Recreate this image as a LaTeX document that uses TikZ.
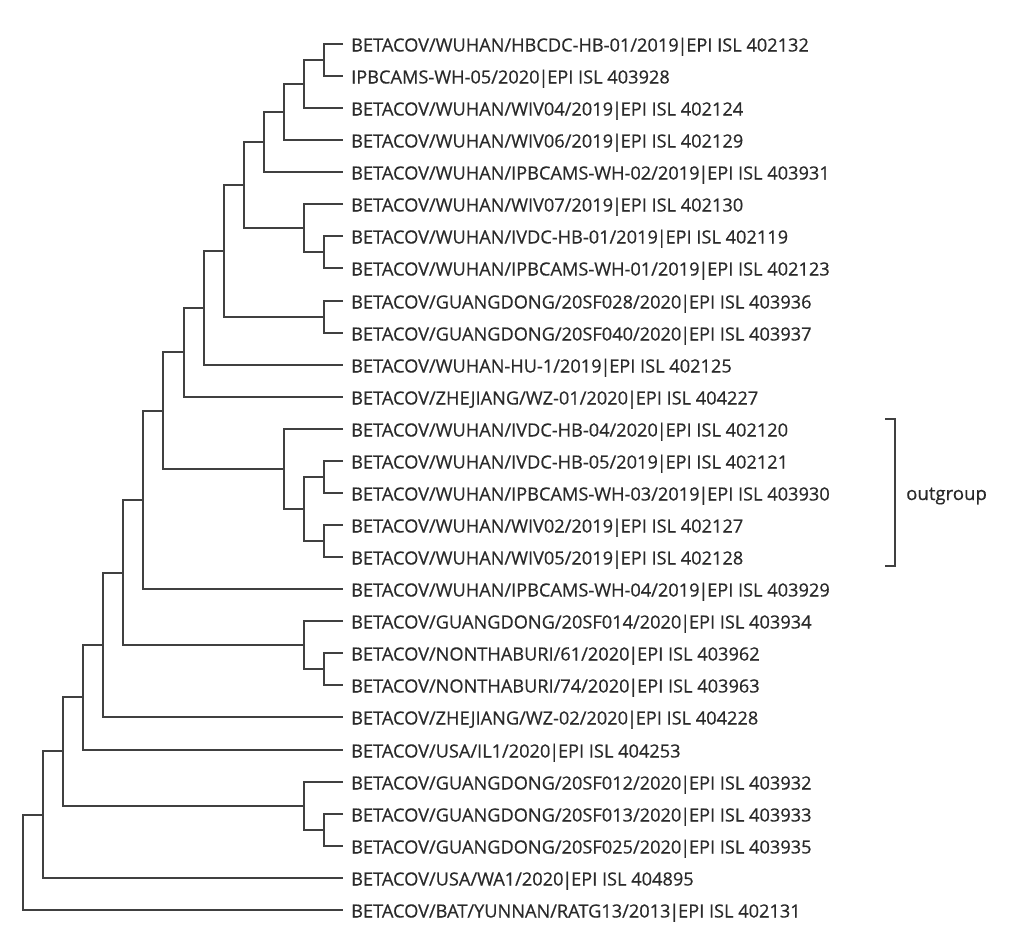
\documentclass[tikz,border=0pt]{standalone}
\usepackage{fontspec}
\newfontfamily\labfont{Open Sans}[FakeBold=0.5]
\newcommand\vbar{\kern-1.2pt|\kern-1.2pt}
\begin{document}
\begin{tikzpicture}[x=1pt,y=-1pt,
  branch/.style={draw=linec,line width=1.8pt,line join=miter},
  leaf/.style={anchor=base west,inner sep=0pt,text=textc,font=\labfont\fontsize{18.2}{21}\selectfont},
  tag/.style={anchor=base west,inner sep=0pt,text=textc,font=\labfont\fontsize{18.6}{21}\selectfont}]
\definecolor{linec}{HTML}{404040}
\definecolor{textc}{HTML}{2A2A2A}
\useasboundingbox[fill=white] (0,0) rectangle (1024,948);
% leaf end points
\coordinate (l1) at (343,44);
\coordinate (l2) at (343,76);
\coordinate (l3) at (343,108);
\coordinate (l4) at (343,140);
\coordinate (l5) at (343,172);
\coordinate (l6) at (343,204);
\coordinate (l7) at (343,236);
\coordinate (l8) at (343,268);
\coordinate (l9) at (343,301);
\coordinate (l10) at (343,333);
\coordinate (l11) at (343,365);
\coordinate (l12) at (343,397);
\coordinate (l13) at (343,429);
\coordinate (l14) at (343,461);
\coordinate (l15) at (343,493);
\coordinate (l16) at (343,525);
\coordinate (l17) at (343,557);
\coordinate (l18) at (343,589);
\coordinate (l19) at (343,621);
\coordinate (l20) at (343,653);
\coordinate (l21) at (343,685);
\coordinate (l22) at (343,717);
\coordinate (l23) at (343,750);
\coordinate (l24) at (343,782);
\coordinate (l25) at (343,814);
\coordinate (l26) at (343,846);
\coordinate (l27) at (343,878);
\coordinate (l28) at (343,910);
% labels
\node[leaf] (t1) at (351,51.5) {BETACOV/WUHAN/HBCDC-HB-01/2019\vbar EPI ISL 402132};
\node[leaf] (t2) at (351,83.5) {IPBCAMS-WH-05/2020\vbar EPI ISL 403928};
\node[leaf] (t3) at (351,115.5) {BETACOV/WUHAN/WIV04/2019\vbar EPI ISL 402124};
\node[leaf] (t4) at (351,147.5) {BETACOV/WUHAN/WIV06/2019\vbar EPI ISL 402129};
\node[leaf] (t5) at (351,179.5) {BETACOV/WUHAN/IPBCAMS-WH-02/2019\vbar EPI ISL 403931};
\node[leaf] (t6) at (351,211.5) {BETACOV/WUHAN/WIV07/2019\vbar EPI ISL 402130};
\node[leaf] (t7) at (351,243.5) {BETACOV/WUHAN/IVDC-HB-01/2019\vbar EPI ISL 402119};
\node[leaf] (t8) at (351,275.5) {BETACOV/WUHAN/IPBCAMS-WH-01/2019\vbar EPI ISL 402123};
\node[leaf] (t9) at (351,308.5) {BETACOV/GUANGDONG/20SF028/2020\vbar EPI ISL 403936};
\node[leaf] (t10) at (351,340.5) {BETACOV/GUANGDONG/20SF040/2020\vbar EPI ISL 403937};
\node[leaf] (t11) at (351,372.5) {BETACOV/WUHAN-HU-1/2019\vbar EPI ISL 402125};
\node[leaf] (t12) at (351,404.5) {BETACOV/ZHEJIANG/WZ-01/2020\vbar EPI ISL 404227};
\node[leaf] (t13) at (351,436.5) {BETACOV/WUHAN/IVDC-HB-04/2020\vbar EPI ISL 402120};
\node[leaf] (t14) at (351,468.5) {BETACOV/WUHAN/IVDC-HB-05/2019\vbar EPI ISL 402121};
\node[leaf] (t15) at (351,500.5) {BETACOV/WUHAN/IPBCAMS-WH-03/2019\vbar EPI ISL 403930};
\node[leaf] (t16) at (351,532.5) {BETACOV/WUHAN/WIV02/2019\vbar EPI ISL 402127};
\node[leaf] (t17) at (351,564.5) {BETACOV/WUHAN/WIV05/2019\vbar EPI ISL 402128};
\node[leaf] (t18) at (351,596.5) {BETACOV/WUHAN/IPBCAMS-WH-04/2019\vbar EPI ISL 403929};
\node[leaf] (t19) at (351,628.5) {BETACOV/GUANGDONG/20SF014/2020\vbar EPI ISL 403934};
\node[leaf] (t20) at (351,660.5) {BETACOV/NONTHABURI/61/2020\vbar EPI ISL 403962};
\node[leaf] (t21) at (351,692.5) {BETACOV/NONTHABURI/74/2020\vbar EPI ISL 403963};
\node[leaf] (t22) at (351,724.5) {BETACOV/ZHEJIANG/WZ-02/2020\vbar EPI ISL 404228};
\node[leaf] (t23) at (351,757.5) {BETACOV/USA/IL1/2020\vbar EPI ISL 404253};
\node[leaf] (t24) at (351,789.5) {BETACOV/GUANGDONG/20SF012/2020\vbar EPI ISL 403932};
\node[leaf] (t25) at (351,821.5) {BETACOV/GUANGDONG/20SF013/2020\vbar EPI ISL 403933};
\node[leaf] (t26) at (351,853.5) {BETACOV/GUANGDONG/20SF025/2020\vbar EPI ISL 403935};
\node[leaf] (t27) at (351,885.5) {BETACOV/USA/WA1/2020\vbar EPI ISL 404895};
\node[leaf] (t28) at (351,917.5) {BETACOV/BAT/YUNNAN/RATG13/2013\vbar EPI ISL 402131};
% internal nodes
\coordinate (A) at (324,60);
\coordinate (B) at (304,84);
\coordinate (C) at (284,112);
\coordinate (D) at (264,142);
\coordinate (E) at (324,252);
\coordinate (F) at (304,228);
\coordinate (G) at (244,185);
\coordinate (H) at (324,317);
\coordinate (I) at (224,251);
\coordinate (J) at (204,308);
\coordinate (K) at (184,352);
\coordinate (O) at (324,477);
\coordinate (P) at (324,541);
\coordinate (N) at (304,509);
\coordinate (M) at (284,469);
\coordinate (Q) at (163,411);
\coordinate (R) at (143,500);
\coordinate (S) at (324,669);
\coordinate (T) at (304,645);
\coordinate (U) at (123,573);
\coordinate (V) at (103,645);
\coordinate (W) at (83,697);
\coordinate (X) at (324,830);
\coordinate (Y) at (304,806);
\coordinate (Z) at (63,751);
\coordinate (AA) at (43,815);
\coordinate (RT) at (23,862);
% branches
\draw[branch] (l1) -| (A) |- (l2);
\draw[branch] (A) -| (B) |- (l3);
\draw[branch] (B) -| (C) |- (l4);
\draw[branch] (C) -| (D) |- (l5);
\draw[branch] (l7) -| (E) |- (l8);
\draw[branch] (l6) -| (F) |- (E);
\draw[branch] (D) -| (G) |- (F);
\draw[branch] (l9) -| (H) |- (l10);
\draw[branch] (G) -| (I) |- (H);
\draw[branch] (I) -| (J) |- (l11);
\draw[branch] (J) -| (K) |- (l12);
\draw[branch] (l14) -| (O) |- (l15);
\draw[branch] (l16) -| (P) |- (l17);
\draw[branch] (O) -| (N) |- (P);
\draw[branch] (l13) -| (M) |- (N);
\draw[branch] (K) -| (Q) |- (M);
\draw[branch] (Q) -| (R) |- (l18);
\draw[branch] (l20) -| (S) |- (l21);
\draw[branch] (l19) -| (T) |- (S);
\draw[branch] (R) -| (U) |- (T);
\draw[branch] (U) -| (V) |- (l22);
\draw[branch] (V) -| (W) |- (l23);
\draw[branch] (l25) -| (X) |- (l26);
\draw[branch] (l24) -| (Y) |- (X);
\draw[branch] (W) -| (Z) |- (Y);
\draw[branch] (Z) -| (AA) |- (l27);
\draw[branch] (AA) -| (RT) |- (l28);
% outgroup bracket
\coordinate (b1) at (885,419);
\coordinate (b2) at (895,419);
\coordinate (b3) at (895,566);
\coordinate (b4) at (885,566);
\draw[branch,line width=1.6pt] (b1) -- (b2) -- (b3) -- (b4);
\node[tag] (og) at (906,500) {outgroup};
\end{tikzpicture}
\end{document}
